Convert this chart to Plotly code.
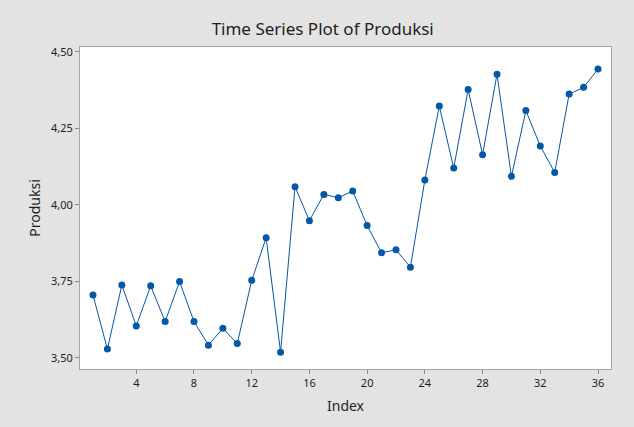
import plotly.graph_objects as go

index = list(range(1, 37))
produksi = [3.705, 3.528, 3.738, 3.604, 3.735, 3.618, 3.749, 3.618, 3.541,
            3.596, 3.546, 3.753, 3.892, 3.518, 4.059, 3.948, 4.034, 4.023,
            4.045, 3.932, 3.843, 3.853, 3.796, 4.081, 4.323, 4.120, 4.377,
            4.164, 4.427, 4.093, 4.308, 4.192, 4.106, 4.362, 4.384, 4.444]
x_ticks = [4, 8, 12, 16, 20, 24, 28, 32, 36]
y_ticks = [3.50, 3.75, 4.00, 4.25, 4.50]

blue = "#0557a8"
font_fam = "Noto Sans, Open Sans, sans-serif"
txt = "#1e1e1e"

fig = go.Figure()
fig.add_trace(go.Scatter(
    x=index, y=produksi, mode="lines+markers",
    line=dict(color=blue, width=1),
    marker=dict(color=blue, size=7),
    showlegend=False,
))

fig.update_layout(
    width=634, height=427,
    paper_bgcolor="#e3e3e3", plot_bgcolor="white",
    margin=dict(l=80, r=23, t=47, b=58),
    separators=",.",
    font=dict(family=font_fam, color=txt),
    title=dict(text="Time Series Plot of Produksi", x=0.509, xref="container",
               xanchor="center", y=0.932, yanchor="middle",
               font=dict(size=17, color=txt, family=font_fam)),
)
fig.update_xaxes(
    range=[0.1, 36.9], tickvals=x_ticks, ticks="outside", ticklen=4,
    tickcolor="#888888", showline=True, linecolor="#a6a6a6", linewidth=1,
    mirror=True, showgrid=False, zeroline=False,
    tickfont=dict(size=11, color=txt),
    title=dict(text="Index", font=dict(size=14, color=txt), standoff=11),
)
fig.update_yaxes(
    range=[3.463, 4.516], tickvals=y_ticks, tickformat=".2f", ticks="outside",
    ticklen=4, tickcolor="#888888", showline=True, linecolor="#a6a6a6",
    linewidth=1, mirror=True, showgrid=False, zeroline=False,
    tickfont=dict(size=11, color=txt),
    title=dict(text="Produksi", font=dict(size=14, color=txt), standoff=7),
)

fig.write_html("out.html", config={"displayModeBar": False},
               post_script="document.body.style.margin='0';document.body.style.background='#e3e3e3';")
